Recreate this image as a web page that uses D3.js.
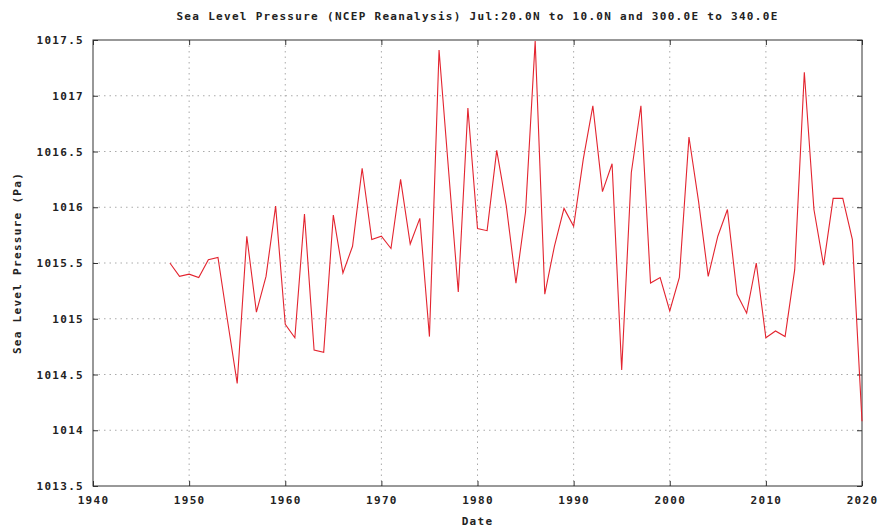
<!DOCTYPE html>
<html>
<head>
<meta charset="utf-8">
<script src="https://cdn.jsdelivr.net/npm/d3@7"></script>
<style>
  body { margin: 0; background: #fff; }
  text { font-family: "DejaVu Sans Mono", monospace; font-weight: bold; font-size: 11px; letter-spacing: 1.3px; fill: #222; }
</style>
</head>
<body>
<svg width="880" height="529"></svg>
<script>
// July sea level pressure, one value per year
const years = d3.range(1948, 2021);
const slp = [
  1015.50, 1015.38, 1015.40, 1015.37, 1015.53, 1015.55, 1014.98, 1014.42, 1015.74, 1015.06,
  1015.38, 1016.01, 1014.95, 1014.83, 1015.94, 1014.72, 1014.70, 1015.93, 1015.41, 1015.65,
  1016.35, 1015.71, 1015.74, 1015.63, 1016.25, 1015.67, 1015.90, 1014.84, 1017.41, 1016.32,
  1015.24, 1016.89, 1015.81, 1015.79, 1016.51, 1016.01, 1015.32, 1015.96, 1017.49, 1015.22,
  1015.65, 1015.99, 1015.83, 1016.43, 1016.91, 1016.14, 1016.39, 1014.54, 1016.31, 1016.91,
  1015.32, 1015.37, 1015.07, 1015.37, 1016.63, 1016.05, 1015.38, 1015.74, 1015.98, 1015.22,
  1015.05, 1015.50, 1014.83, 1014.89, 1014.84, 1015.44, 1017.21, 1015.98, 1015.48, 1016.08,
  1016.08, 1015.71, 1014.08
];
const xTicks = d3.range(1940, 2021, 10);
const yTicks = d3.range(1013.5, 1017.51, 0.5);

const title = 'Sea Level Pressure (NCEP Reanalysis) Jul:20.0N to 10.0N and 300.0E to 340.0E';

const svg = d3.select('svg');
const width = +svg.attr('width');
const height = +svg.attr('height');
const margin = { top: 40, right: 18, bottom: 43, left: 93 };
const w = width - margin.left - margin.right;
const h = height - margin.top - margin.bottom;

const x = d3.scaleLinear().domain([1940, 2020]).range([0, w]);
const y = d3.scaleLinear().domain([1013.5, 1017.5]).range([h, 0]);

const g = svg.append('g').attr('transform', `translate(${margin.left},${margin.top})`);

// dotted grid
g.append('g')
  .selectAll('line')
  .data(xTicks.slice(1, -1))
  .join('line')
  .attr('x1', d => x(d)).attr('x2', d => x(d))
  .attr('y1', 0).attr('y2', h)
  .attr('stroke', '#aaa').attr('stroke-dasharray', '1.5,4');

g.append('g')
  .selectAll('line')
  .data(yTicks.slice(1, -1))
  .join('line')
  .attr('y1', d => y(d)).attr('y2', d => y(d))
  .attr('x1', 0).attr('x2', w)
  .attr('stroke', '#aaa').attr('stroke-dasharray', '1.5,4');

// axes with inward (mirrored) ticks
const fmtY = d => d3.format('.1f')(d).replace(/\.0$/, '');
g.append('g').attr('transform', `translate(0,${h})`)
  .call(d3.axisBottom(x).tickValues(xTicks).tickFormat(d3.format('d')).tickSizeInner(-5).tickSizeOuter(0).tickPadding(10));
g.append('g')
  .call(d3.axisTop(x).tickValues(xTicks).tickFormat('').tickSizeInner(-5).tickSizeOuter(0));
g.append('g')
  .call(d3.axisLeft(y).tickValues(yTicks).tickFormat(fmtY).tickSizeInner(-5).tickSizeOuter(0).tickPadding(9));
g.append('g').attr('transform', `translate(${w},0)`)
  .call(d3.axisRight(y).tickValues(yTicks).tickFormat('').tickSizeInner(-5).tickSizeOuter(0));

g.selectAll('.domain').remove();
g.selectAll('.tick line').attr('stroke', '#333');
g.selectAll('.tick text').style('font-family', '"DejaVu Sans Mono", monospace')
  .style('font-size', '11px').style('font-weight', 'bold').attr('fill', '#222');

g.append('rect')
  .attr('width', w).attr('height', h)
  .attr('fill', 'none').attr('stroke', '#333').attr('stroke-width', 1);

// series
const line = d3.line()
  .x((d, i) => x(years[i]))
  .y(d => y(d));

g.append('path')
  .datum(slp)
  .attr('d', line)
  .attr('fill', 'none')
  .attr('stroke', '#e3242f')
  .attr('stroke-width', 1.1);

// labels
svg.append('text')
  .attr('x', margin.left + w / 2).attr('y', 20)
  .attr('text-anchor', 'middle')
  .text(title);

svg.append('text')
  .attr('x', margin.left + w / 2).attr('y', 525)
  .attr('text-anchor', 'middle')
  .text('Date');

svg.append('text')
  .attr('transform', `translate(21,${margin.top + h / 2}) rotate(-90)`)
  .attr('text-anchor', 'middle')
  .text('Sea Level Pressure (Pa)');
</script>
</body>
</html>
